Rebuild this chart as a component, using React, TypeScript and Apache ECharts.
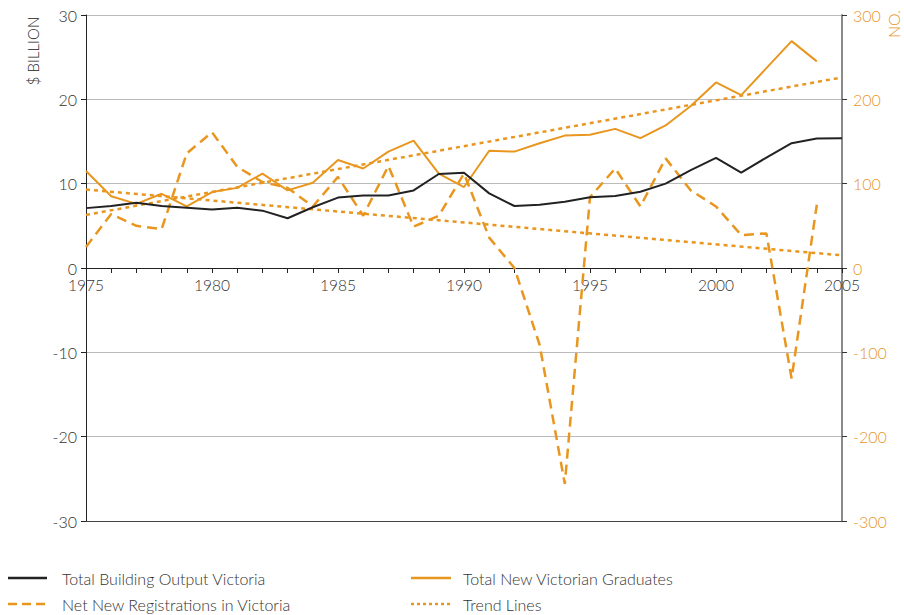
import React, { useEffect, useRef } from "react";
import * as echarts from "echarts";

const years: string[] = [
  "1975","1976","1977","1978","1979","1980","1981","1982","1983","1984",
  "1985","1986","1987","1988","1989","1990","1991","1992","1993","1994",
  "1995","1996","1997","1998","1999","2000","2001","2002","2003","2004","2005",
];

// $ billion (left axis)
const buildingOutput: number[] = [
  7.1, 7.35, 7.75, 7.35, 7.15, 6.95, 7.15, 6.8, 5.9, 7.2,
  8.35, 8.6, 8.6, 9.2, 11.15, 11.3, 8.85, 7.35, 7.5, 7.85,
  8.4, 8.55, 9.05, 10.0, 11.6, 13.05, 11.3, 13.1, 14.8, 15.35, 15.4,
];

// NO. (right axis)
const graduates: number[] = [
  115, 85, 76, 88, 73, 90, 95, 112, 92, 101,
  128, 118, 138, 151, 112, 96, 139, 138, 148, 157,
  158, 165, 154, 169, 192, 220, 205, 237, 269, 245,
];

const registrations: number[] = [
  25, 64, 50, 46, 136, 161, 120, 102, 95, 73,
  108, 62, 121, 49, 62, 112, 36, 0, -91, -256,
  84, 118, 73, 130, 92, 73, 39, 41, -131, 75,
];

const graduatesTrend: [string, number][] = [["1975", 63], ["2005", 226]];
const registrationsTrend: [string, number][] = [["1975", 93], ["2005", 15]];

const legendLabels: string[] = [
  "Total Building Output Victoria",
  "Net New Registrations in Victoria",
  "Total New Victorian Graduates",
  "Trend Lines",
];

const ORANGE = "#E9961F";
const DARK = "#222222";
const FONT = "Lato";

export default function App() {
  const ref = useRef<HTMLDivElement>(null);
  useEffect(() => {
    if (!ref.current) return;
    const chart = echarts.init(ref.current, null, { renderer: "svg" });
    const txt = { fontFamily: FONT, fontSize: 16, fontWeight: 300 as any };
    const gridTop = 15;
    const gridBottom = 94;
    const plotH = 615 - gridTop - gridBottom;
    chart.setOption({
      animation: false,
      textStyle: { fontFamily: FONT },
      grid: { left: 86, right: 62, top: gridTop, bottom: gridBottom },
      xAxis: {
        type: "category",
        data: years,
        boundaryGap: false,
        position: "bottom",
        offset: -plotH / 2,
        axisLine: { onZero: false, lineStyle: { color: DARK, width: 1 } },
        axisTick: { interval: 0, length: 5, lineStyle: { color: DARK } },
        axisLabel: { interval: 4, margin: 9, color: "#333", ...txt, fontSize: 15.5 },
        splitLine: { show: false },
      },
      yAxis: [
        {
          type: "value",
          min: -30,
          max: 30,
          interval: 10,
          axisLine: { show: true, onZero: false, lineStyle: { color: DARK } },
          axisTick: { show: true, length: 5, lineStyle: { color: DARK } },
          axisLabel: { margin: 9, color: "#333", ...txt },
          splitLine: { show: true, lineStyle: { color: "#bbbbbb", width: 1 } },
        },
        {
          type: "value",
          min: -300,
          max: 300,
          interval: 100,
          position: "right",
          axisLine: { show: true, onZero: false, lineStyle: { color: "#8a8a8a", width: 2 } },
          axisTick: { show: true, length: 5, lineStyle: { color: "#333" } },
          axisLabel: { margin: 11, color: ORANGE, ...txt },
          splitLine: { show: false },
        },
      ],
      series: [
        {
          name: legendLabels[3] + " A",
          type: "line",
          yAxisIndex: 1,
          data: graduatesTrend,
          symbol: "none",
          lineStyle: { color: ORANGE, width: 2.5, type: [4, 4] },
        },
        {
          name: legendLabels[3] + " B",
          type: "line",
          yAxisIndex: 1,
          data: registrationsTrend,
          symbol: "none",
          lineStyle: { color: ORANGE, width: 2.5, type: [4, 4] },
        },
        {
          name: legendLabels[1],
          type: "line",
          yAxisIndex: 1,
          data: registrations,
          symbol: "none",
          lineStyle: { color: ORANGE, width: 2.5, type: [10, 6] },
        },
        {
          name: legendLabels[2],
          type: "line",
          yAxisIndex: 1,
          data: graduates,
          symbol: "none",
          lineStyle: { color: ORANGE, width: 2 },
        },
        {
          name: legendLabels[0],
          type: "line",
          yAxisIndex: 0,
          data: buildingOutput,
          symbol: "none",
          lineStyle: { color: DARK, width: 2 },
          markLine: {
            silent: true,
            symbol: "none",
            label: { show: false },
            lineStyle: { color: "#444", width: 1, type: "solid" },
            data: [{ yAxis: -30 }],
          },
        },
      ],
      graphic: [
        {
          type: "text",
          x: 33,
          y: 51,
          rotation: Math.PI / 2,
          style: {
            text: "$ BILLION",
            fill: "#222",
            font: `300 15px ${FONT}`,
            textAlign: "center",
            textVerticalAlign: "middle",
          },
        },
        {
          type: "text",
          x: 893,
          y: 24,
          rotation: Math.PI / 2,
          style: {
            text: "NO.",
            fill: ORANGE,
            font: `300 16px ${FONT}`,
            textAlign: "center",
            textVerticalAlign: "middle",
          },
        },
        { type: "line", shape: { x1: 8, y1: 578, x2: 47, y2: 578 }, style: { stroke: DARK, lineWidth: 2.5 } },
        { type: "line", shape: { x1: 8, y1: 604, x2: 47, y2: 604 }, style: { stroke: ORANGE, lineWidth: 2.5, lineDash: [9, 5] } },
        { type: "line", shape: { x1: 411, y1: 578, x2: 451, y2: 578 }, style: { stroke: ORANGE, lineWidth: 2.5 } },
        { type: "line", shape: { x1: 411, y1: 604, x2: 451, y2: 604 }, style: { stroke: ORANGE, lineWidth: 2.5, lineDash: [3, 3] } },
        { type: "text", x: 62, y: 578, style: { text: legendLabels[0], fill: "#333", font: `300 16px ${FONT}`, textVerticalAlign: "middle" } },
        { type: "text", x: 62, y: 604, style: { text: legendLabels[1], fill: "#333", font: `300 16px ${FONT}`, textVerticalAlign: "middle" } },
        { type: "text", x: 463, y: 578, style: { text: legendLabels[2], fill: "#333", font: `300 16px ${FONT}`, textVerticalAlign: "middle" } },
        { type: "text", x: 463, y: 604, style: { text: legendLabels[3], fill: "#333", font: `300 16px ${FONT}`, textVerticalAlign: "middle" } },
      ],
    });
    return () => chart.dispose();
  }, []);
  return <div ref={ref} style={{ width: 904, height: 615, position: "absolute", left: 0, top: 0 }} />;
}
